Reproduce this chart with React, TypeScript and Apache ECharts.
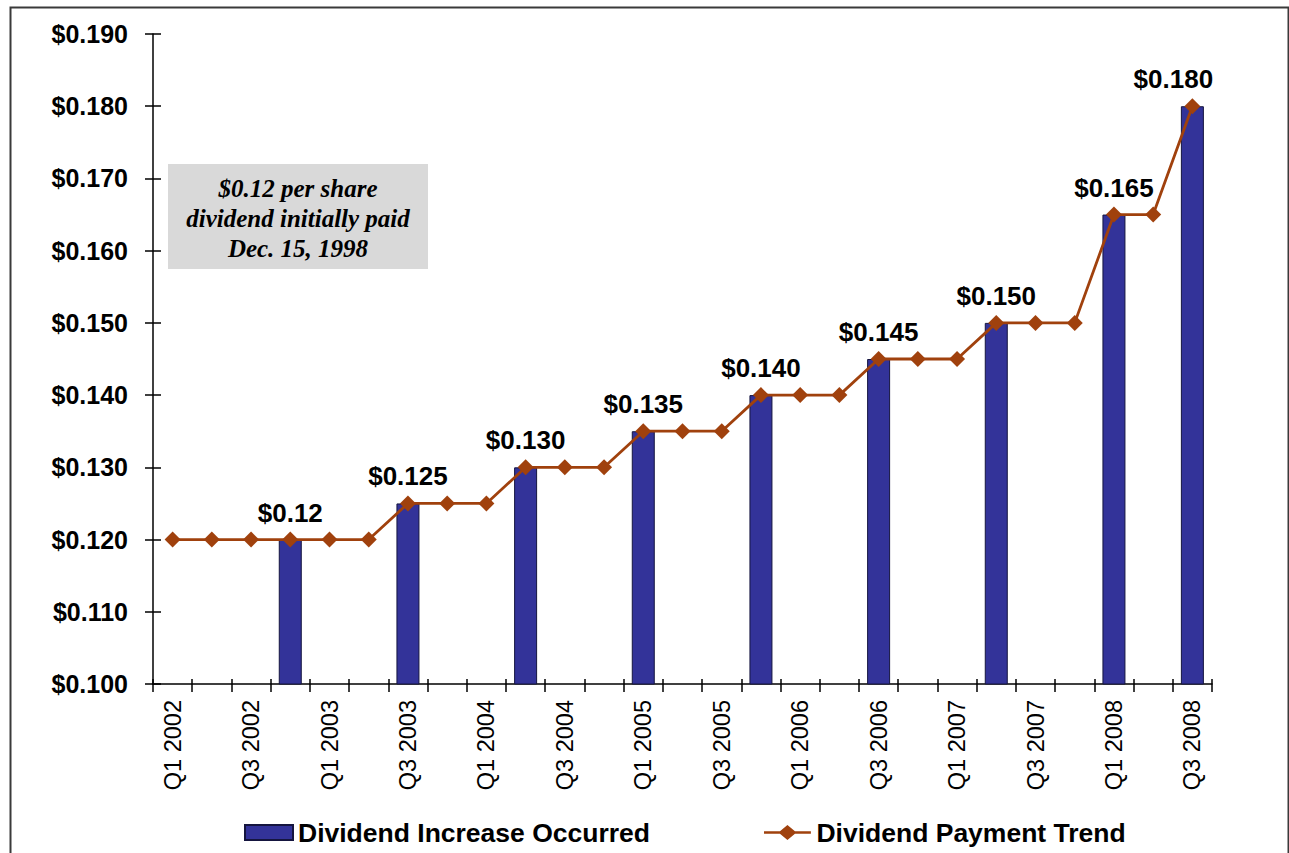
import React, { useEffect, useRef } from "react";
import * as echarts from "echarts";

const quarters = [
  "Q1 2002", "Q2 2002", "Q3 2002", "Q4 2002",
  "Q1 2003", "Q2 2003", "Q3 2003", "Q4 2003",
  "Q1 2004", "Q2 2004", "Q3 2004", "Q4 2004",
  "Q1 2005", "Q2 2005", "Q3 2005", "Q4 2005",
  "Q1 2006", "Q2 2006", "Q3 2006", "Q4 2006",
  "Q1 2007", "Q2 2007", "Q3 2007", "Q4 2007",
  "Q1 2008", "Q2 2008", "Q3 2008",
];

const paymentTrend = [
  0.12, 0.12, 0.12, 0.12,
  0.12, 0.12, 0.125, 0.125,
  0.125, 0.13, 0.13, 0.13,
  0.135, 0.135, 0.135, 0.14,
  0.14, 0.14, 0.145, 0.145,
  0.145, 0.15, 0.15, 0.15,
  0.165, 0.165, 0.18,
];

const increaseOccurred = [
  null, null, null, 0.12,
  null, null, 0.125, null,
  null, 0.13, null, null,
  0.135, null, null, 0.14,
  null, null, 0.145, null,
  null, 0.15, null, null,
  0.165, null, 0.18,
];

const increaseLabels = [
  "", "", "", "$0.12",
  "", "", "$0.125", "",
  "", "$0.130", "", "",
  "$0.135", "", "", "$0.140",
  "", "", "$0.145", "",
  "", "$0.150", "", "",
  "$0.165", "", "$0.180",
];

const yMin = 0.1;
const yMax = 0.19;
const yStep = 0.01;

const noteText = "$0.12 per share\ndividend initially paid\nDec. 15, 1998";

const FONT = "'Liberation Sans', Arial, sans-serif";
const LINE_ICON =
  "path://M0,6.7 L17,6.7 L25,0 L33,6.7 L50,6.7 L50,9.3 L33,9.3 L25,16 L17,9.3 L0,9.3 Z";

export default function App() {
  const ref = useRef<HTMLDivElement>(null);

  useEffect(() => {
    if (!ref.current) return;
    const chart = echarts.init(ref.current, undefined, { renderer: "svg" });

    const barData = increaseOccurred.map((v, i) => {
      if (v === null) return "-";
      const item: any = { value: v };
      if (i === increaseOccurred.length - 1) {
        item.label = { offset: [-19, 0] };
      }
      return item;
    });

    const option: any = {
      animation: false,
      backgroundColor: "#ffffff",
      grid: { left: 153, right: 77, top: 34, bottom: 169, containLabel: false },
      xAxis: [
        {
          type: "category",
          data: quarters,
          position: "bottom",
          boundaryGap: true,
          axisLine: { show: true, lineStyle: { color: "#000", width: 1.5 } },
          axisTick: { show: true, interval: 0, length: 8, lineStyle: { color: "#000", width: 1.5 } },
          axisLabel: {
            interval: 1,
            rotate: 90,
            margin: 16,
            color: "#000",
            fontFamily: FONT,
            fontSize: 23.5,
          },
          splitLine: { show: false },
        },
        {
          type: "category",
          data: quarters,
          position: "bottom",
          boundaryGap: true,
          axisLine: { show: false },
          axisTick: { show: true, inside: true, interval: 0, length: 5, lineStyle: { color: "#000", width: 1.5 } },
          axisLabel: { show: false },
          splitLine: { show: false },
        },
      ],
      yAxis: [
        {
          type: "value",
          min: yMin,
          max: yMax,
          interval: yStep,
          position: "left",
          axisLine: { show: true, lineStyle: { color: "#000", width: 1.5 } },
          axisTick: { show: true, length: 8, lineStyle: { color: "#000", width: 1.5 } },
          axisLabel: {
            margin: 25,
            color: "#000",
            fontFamily: FONT,
            fontSize: 25,
            fontWeight: "bold",
            formatter: (v: number) => "$" + v.toFixed(3),
          },
          splitLine: { show: false },
        },
        {
          type: "value",
          min: yMin,
          max: yMax,
          interval: yStep,
          position: "left",
          axisLine: { show: false },
          axisTick: { show: true, inside: true, length: 8, lineStyle: { color: "#000", width: 1.5 } },
          axisLabel: { show: false },
          splitLine: { show: false },
        },
      ],
      legend: {
        left: 239,
        top: 814,
        itemGap: 114,
        itemWidth: 48,
        itemHeight: 15,
        textStyle: {
          color: "#000",
          fontFamily: FONT,
          fontSize: 26.5,
          fontWeight: "bold",
        },
        data: [
          { name: "Dividend Increase Occurred", icon: "rect" },
          { name: "Dividend Payment Trend", icon: LINE_ICON },
        ],
      },
      series: [
        {
          name: "Dividend Increase Occurred",
          type: "bar",
          xAxisIndex: 0,
          yAxisIndex: 0,
          data: barData,
          barWidth: 23,
          itemStyle: { color: "#333399", borderColor: "#15153f", borderWidth: 1 },
          label: {
            show: true,
            position: "top",
            distance: 14,
            color: "#000",
            fontFamily: FONT,
            fontSize: 26,
            fontWeight: "bold",
            formatter: (p: any) => increaseLabels[p.dataIndex],
          },
          z: 2,
        },
        {
          name: "Dividend Payment Trend",
          type: "line",
          xAxisIndex: 0,
          yAxisIndex: 0,
          data: paymentTrend,
          symbol: "diamond",
          symbolSize: 16,
          showSymbol: true,
          lineStyle: { color: "#A0410D", width: 2.8 },
          itemStyle: { color: "#A0410D" },
          z: 3,
        },
      ],
      graphic: [
        {
          type: "rect",
          left: 8,
          top: 5,
          shape: { x: 0, y: 0, width: 1278, height: 870 },
          style: { fill: "none", stroke: "#3a3a3a", lineWidth: 2 },
          silent: true,
          z: 0,
        },
        {
          type: "group",
          left: 168,
          top: 164,
          z: 10,
          children: [
            {
              type: "rect",
              shape: { x: 0, y: 0, width: 260, height: 105 },
              style: { fill: "#D9D9D9" },
            },
            {
              type: "text",
              x: 130,
              y: 54,
              style: {
                text: noteText,
                align: "center",
                verticalAlign: "middle",
                font: "italic bold 25px 'Liberation Serif', 'Times New Roman', serif",
                lineHeight: 30,
                fill: "#000",
              },
            },
          ],
        },
      ],
    };

    chart.setOption(option);
    return () => chart.dispose();
  }, []);

  return (
    <div
      ref={ref}
      style={{ position: "absolute", left: 0, top: 0, width: 1289, height: 853, background: "#fff" }}
    />
  );
}
